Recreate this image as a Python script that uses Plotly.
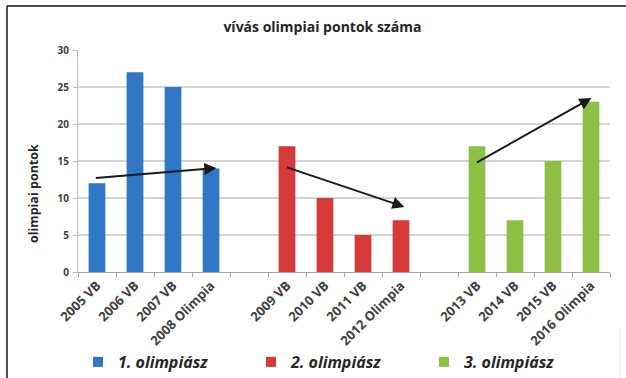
import plotly.graph_objects as go

cats_1 = ["2005 VB", "2006 VB", "2007 VB", "2008 Olimpia"]
vals_1 = [12, 27, 25, 14]
cats_2 = ["2009 VB", "2010 VB", "2011 VB", "2012 Olimpia"]
vals_2 = [17, 10, 5, 7]
cats_3 = ["2013 VB", "2014 VB", "2015 VB", "2016 Olimpia"]
vals_3 = [17, 7, 15, 23]
gap_cats = [" ", "  "]
all_cats = cats_1 + [gap_cats[0]] + cats_2 + [gap_cats[1]] + cats_3

series_names = ["1. olimpiász", "2. olimpiász", "3. olimpiász"]
colors = ["#2f76c4", "#d6393a", "#8dc044"]

# trend arrows (start index, start value, end index, end value)
arrow_x0 = [-0.07, 4.96, 9.96]
arrow_y0 = [12.7, 14.2, 14.7]
arrow_x1 = [3.14, 8.09, 13.01]
arrow_y1 = [14.05, 8.8, 23.5]

fig = go.Figure()
for cats, vals, name, col in zip([cats_1, cats_2, cats_3], [vals_1, vals_2, vals_3], series_names, colors):
    fig.add_trace(go.Bar(
        x=cats, y=vals, name=name, width=0.44, showlegend=False,
        marker=dict(color=col, line=dict(width=0)),
    ))
    # legend-only entry with a small square symbol
    fig.add_trace(go.Scatter(
        x=[None], y=[None], mode="markers", name=name, showlegend=True,
        marker=dict(symbol="square", size=10, color=col),
    ))

for x0, y0, x1, y1 in zip(arrow_x0, arrow_y0, arrow_x1, arrow_y1):
    fig.add_annotation(
        x=x1, y=y1, ax=x0, ay=y0, xref="x", yref="y", axref="x", ayref="y",
        showarrow=True, arrowhead=2, arrowsize=1.2, arrowwidth=2, arrowcolor="#1a1a1a", text="",
    )

font_fam = "Open Sans, Liberation Sans, sans-serif"

fig.add_annotation(
    text="<b>olimpiai pontok</b>", textangle=-90, showarrow=False,
    xref="paper", yref="paper", x=(33 - 78) / 532, y=(272 - 194) / 222,
    xanchor="center", yanchor="middle",
    font=dict(family=font_fam, size=12.5, color="#262626"),
)

fig.update_layout(
    width=626, height=378,
    margin=dict(l=78, r=16, t=50, b=106, autoexpand=False),
    paper_bgcolor="white", plot_bgcolor="white",
    barmode="overlay",
    title=dict(text="<b>vívás olimpiai pontok száma</b>", x=0.515, xanchor="center",
               y=1 - 27 / 378, yanchor="middle", automargin=False,
               font=dict(family=font_fam, size=14, color="#262626")),
    xaxis=dict(
        type="category", categoryorder="array", categoryarray=all_cats,
        range=[-0.5, len(all_cats) - 0.5], automargin=False,
        tickangle=-45, tickson="boundaries", ticks="outside", ticklen=4, tickcolor="#a6a6a6",
        showline=True, linecolor="#a6a6a6", linewidth=1, showgrid=False,
        tickfont=dict(family=font_fam, size=13, color="#404040", weight="bold"),
    ),
    yaxis=dict(
        range=[0, 30], dtick=5, showgrid=True, gridcolor="#d4d4d4", gridwidth=1.5,
        ticks="outside", ticklen=4, tickcolor="#c0c0c0", automargin=False,
        showline=True, linecolor="#c0c0c0", zeroline=False, ticklabelstandoff=2,
        tickfont=dict(family=font_fam, size=10, color="#404040", weight="bold"),
    ),
    legend=dict(
        orientation="h", x=(78 - 78) / 532, xanchor="left", y=(272 - 362) / 222, yanchor="middle",
        entrywidth=128, entrywidthmode="pixels", itemwidth=30,
        font=dict(family=font_fam, size=16, color="#262626", weight="bold", style="italic"),
        bgcolor="rgba(0,0,0,0)",
    ),
    shapes=[
        dict(type="line", xref="paper", yref="paper",
             x0=(7 - 78) / 532, x1=(626 - 78) / 532, y0=(272 - 6) / 222, y1=(272 - 6) / 222,
             line=dict(color="#111", width=1.5)),
        dict(type="line", xref="paper", yref="paper",
             x0=(7 - 78) / 532, x1=(7 - 78) / 532, y0=(272 - 6) / 222, y1=(272 - 380) / 222,
             line=dict(color="#111", width=1.5)),
        dict(type="line", xref="paper", yref="paper",
             x0=(620 - 78) / 532, x1=(620 - 78) / 532, y0=(272 - 328) / 222, y1=(272 - 380) / 222,
             line=dict(color="#e6e6e6", width=1)),
    ],
)

fig.write_html("out.html", config={"displayModeBar": False},
               post_script="document.body.style.margin='0';document.body.style.overflow='hidden';")
